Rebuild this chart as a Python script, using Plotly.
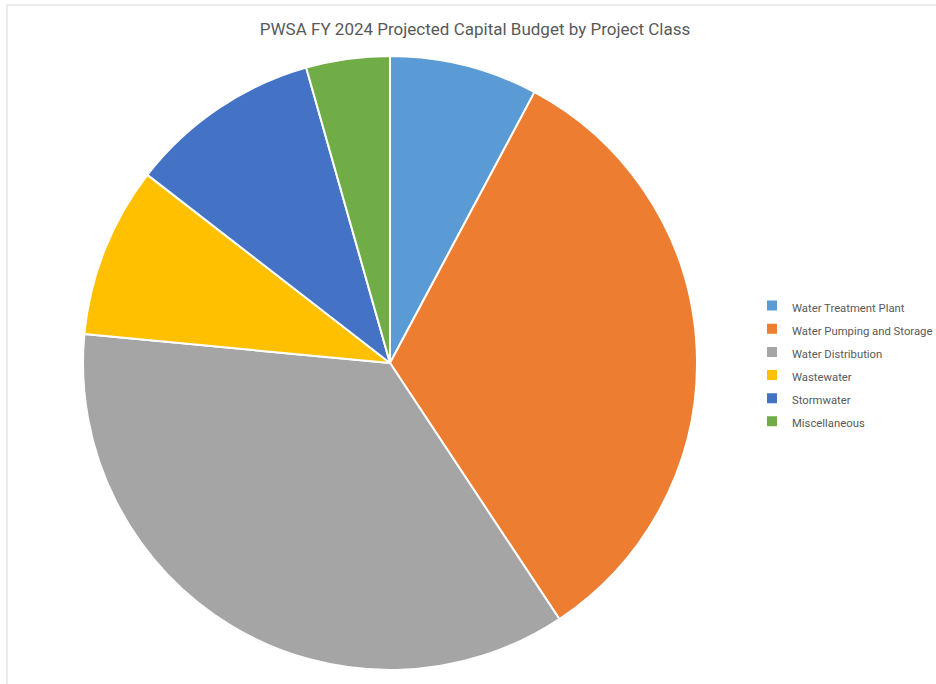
import plotly.graph_objects as go

# FY 2024 projected capital budget share by project class (%)
project_classes = [
    "Water Treatment Plant",
    "Water Pumping and Storage",
    "Water Distribution",
    "Wastewater",
    "Stormwater",
    "Miscellaneous",
]
budget_share = [7.8, 32.9, 35.8, 9.0, 10.1, 4.4]
slice_colors = ["#5B9BD5", "#ED7D31", "#A5A5A5", "#FFC000", "#4472C4", "#70AD47"]

W, H = 936, 684
cx, cy, r = 390, 363, 307  # pie center and radius in pixels

# legend rows use a larger nominal font for row spacing, smaller visible text
legend_labels = [f"<span style='font-size:11.3px'>{c}</span>" for c in project_classes]

fig = go.Figure(
    go.Pie(
        labels=legend_labels,
        values=budget_share,
        sort=False,
        direction="clockwise",
        rotation=0,
        textinfo="none",
        hovertext=project_classes,
        hoverinfo="text+percent",
        marker=dict(colors=slice_colors, line=dict(color="white", width=2)),
        domain=dict(
            x=[(cx - r) / W, (cx + r) / W],
            y=[(H - cy - r) / H, (H - cy + r) / H],
        ),
    )
)

fig.update_layout(
    width=W,
    height=H,
    margin=dict(l=0, r=0, t=0, b=0, autoexpand=False),
    paper_bgcolor="white",
    font=dict(family="Liberation Sans Narrow, Roboto, sans-serif", color="#595959"),
    title=dict(
        text="PWSA FY 2024 Projected Capital Budget by Project Class",
        x=475 / W,
        xanchor="center",
        y=1 - 29 / H,
        yanchor="middle",
        font=dict(size=17, color="#595959"),
    ),
    legend=dict(
        x=752 / W,
        xanchor="left",
        y=1 - 289 / H,
        yanchor="top",
        font=dict(size=15.5, color="#595959"),
        bgcolor="rgba(0,0,0,0)",
        itemclick=False,
    ),
    shapes=[
        # chart area frame
        dict(type="line", xref="paper", yref="paper",
             x0=7 / W, x1=1, y0=1 - 5 / H, y1=1 - 5 / H,
             line=dict(color="#D9D9D9", width=1)),
        dict(type="line", xref="paper", yref="paper",
             x0=7 / W, x1=7 / W, y0=0, y1=1 - 5 / H,
             line=dict(color="#D9D9D9", width=1)),
    ],
)

fig.write_html("out.html")
